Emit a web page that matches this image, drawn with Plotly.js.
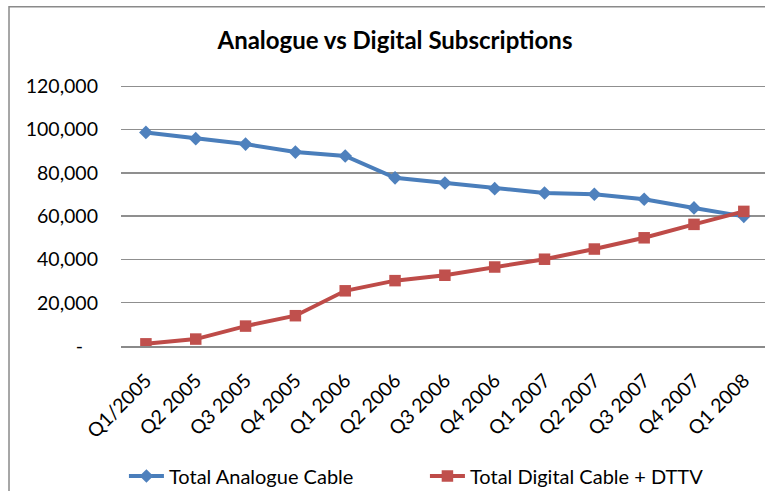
<!DOCTYPE html>
<html>
<head>
<meta charset="utf-8">
<script src="https://cdn.plot.ly/plotly-3.0.1.min.js"></script>
<style>html,body{margin:0;padding:0;background:#fff;}#chart{width:765px;height:491px;}</style>
</head>
<body>
<div id="chart"></div>
<script>
var categories = ["Q1/2005","Q2 2005","Q3 2005","Q4 2005","Q1 2006","Q2 2006","Q3 2006","Q4 2006","Q1 2007","Q2 2007","Q3 2007","Q4 2007","Q1 2008"];
var analogue = [98700, 95800, 93300, 89600, 87800, 77700, 75300, 72700, 70700, 70100, 67800, 63800, 59900];
var digital  = [1000, 3200, 9200, 14000, 25500, 30200, 32700, 36500, 40100, 44800, 50000, 56200, 62200];
var yTickVals = [0, 20000, 40000, 60000, 80000, 100000, 120000];
var yTickText = ["-\u00a0\u00a0\u00a0", "20,000", "40,000", "60,000", "80,000", "100,000", "120,000"];
var seriesNames = ["Total Analogue Cable", "Total Digital Cable + DTTV"];

var FONT = "Lato, 'Open Sans', sans-serif";

var traces = [
  {x: categories, y: analogue, name: seriesNames[0], type: "scatter", mode: "lines+markers",
   line: {color: "#4A7EBB", width: 4}, marker: {symbol: "diamond", size: 10.5, color: "#4F81BD", line: {width: 0}}},
  {x: categories, y: digital, name: seriesNames[1], type: "scatter", mode: "lines+markers",
   line: {color: "#BE4B48", width: 4}, marker: {symbol: "square", size: 11.5, color: "#C0504D", line: {width: 0}}}
];

var layout = {
  width: 765, height: 491, autosize: false,
  margin: {l: 121, r: 0, t: 85, b: 145, pad: 0},
  paper_bgcolor: "#ffffff", plot_bgcolor: "#ffffff",
  font: {family: FONT, size: 19, color: "#000000"},
  title: {text: "<b>Analogue vs Digital Subscriptions</b>", font: {family: FONT, size: 24, color: "#000"},
          x: 0.5163, xanchor: "center", xref: "container", y: 0.9165, yanchor: "middle", yref: "container"},
  xaxis: {type: "category", range: [-0.5, 12.425], showgrid: false, zeroline: false, automargin: false,
          showline: true, linecolor: "#8a8a8a", linewidth: 1.5, ticks: "", tickangle: -45,
          ticklabelstandoff: 14, tickfont: {family: FONT, size: 19.5, color: "#000"}, fixedrange: true},
  yaxis: {range: [0, 120600], tickvals: yTickVals, ticktext: yTickText, showgrid: true, automargin: false,
          gridcolor: "#8f8f8f", gridwidth: 1.5, zeroline: false, showline: false, ticks: "",
          ticklabelstandoff: 22, tickfont: {family: FONT, size: 19.5, color: "#000"}, fixedrange: true},
  showlegend: true,
  legend: {orientation: "h", xref: "container", yref: "container", x: 0.162, xanchor: "left", y: 0.0305, yanchor: "middle",
           itemwidth: 35, entrywidth: 251, font: {family: FONT, size: 20, color: "#000"}, bgcolor: "rgba(0,0,0,0)"},
  shapes: [{type: "rect", xref: "paper", yref: "paper", x0: -0.1739, x1: 1.2, y0: -1.0, y1: 1.3,
            line: {color: "#8a8a8a", width: 1.5}, fillcolor: "rgba(0,0,0,0)", layer: "below"}]
};

Plotly.newPlot("chart", traces, layout, {displayModeBar: false, staticPlot: true});
</script>
</body>
</html>
